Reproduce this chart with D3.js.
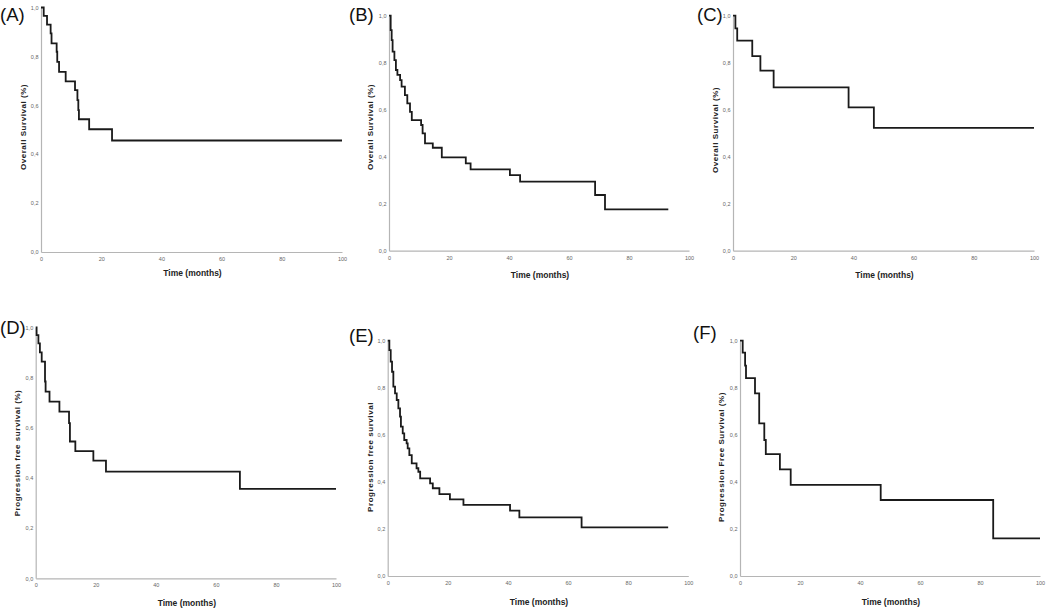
<!DOCTYPE html>
<html><head><meta charset="utf-8">
<script src="https://cdn.jsdelivr.net/npm/d3@7"></script>
<style>
html,body{margin:0;padding:0;background:#fff;}
svg{display:block;}
</style></head>
<body>
<svg id="chart" width="1050" height="611"></svg>
<script>
// ---- Data ----
const panelLetters = ["(A)", "(B)", "(C)", "(D)", "(E)", "(F)"];
const yTitles = ["Overall Survival (%)", "Overall Survival (%)", "Overall Survival (%)",
                 "Progression free survival (%)", "Progression free survival", "Progression Free Survival (%)"];
const xTitle = "Time (months)";
const xTicks = [0, 20, 40, 60, 80, 100];
const yTicks = [0, 0.2, 0.4, 0.6, 0.8, 1.0];

const timesA = [0, 0.9, 2.0, 3.2, 3.5, 5.2, 5.4, 6.0, 8.2, 11.3, 12.1, 12.4, 12.6, 16.0, 23.6, 100];
const survA  = [1.0, 0.966, 0.930, 0.894, 0.853, 0.819, 0.778, 0.737, 0.698, 0.662, 0.621, 0.580, 0.543, 0.502, 0.456, 0.456];

const timesB = [0, 0.56, 0.89, 1.2, 1.8, 2.3, 2.8, 3.7, 4.2, 5.3, 6.1, 7.0, 7.6, 10.7, 11.2, 12.0, 14.6, 17.6, 25.6, 27.2, 40.3, 43.7, 68.7, 72.0, 93.1];
const survB  = [1.0, 0.939, 0.896, 0.847, 0.811, 0.769, 0.748, 0.726, 0.698, 0.662, 0.627, 0.591, 0.556, 0.535, 0.499, 0.457, 0.438, 0.397, 0.372, 0.346, 0.322, 0.294, 0.237, 0.176, 0.176];

const timesC = [0, 0.8, 1.4, 6.4, 9.1, 13.5, 38.4, 46.8, 100];
const survC  = [1.0, 0.946, 0.894, 0.828, 0.766, 0.695, 0.610, 0.523, 0.523];

const timesD = [0, 0.3, 0.9, 1.4, 2.0, 3.1, 3.3, 4.6, 7.9, 11.1, 11.4, 13.2, 19.2, 23.4, 68.0, 100];
const survD  = [1.0, 0.969, 0.936, 0.900, 0.863, 0.784, 0.744, 0.704, 0.664, 0.618, 0.545, 0.507, 0.469, 0.425, 0.356, 0.356];

const timesE = [0, 0.55, 1.0, 1.44, 1.88, 2.44, 3.0, 3.55, 4.1, 4.4, 5.0, 5.5, 6.3, 6.65, 7.2, 8.0, 9.6, 10.2, 10.8, 14.1, 15.0, 17.2, 20.7, 25.2, 40.7, 43.8, 64.5, 93.3];
const survE  = [1.0, 0.960, 0.911, 0.868, 0.805, 0.776, 0.748, 0.712, 0.677, 0.635, 0.606, 0.578, 0.564, 0.542, 0.514, 0.479, 0.458, 0.443, 0.415, 0.394, 0.373, 0.348, 0.326, 0.302, 0.278, 0.249, 0.207, 0.207];

const timesF = [0, 0.9, 1.7, 2.0, 5.0, 6.4, 8.1, 8.6, 13.3, 16.9, 46.9, 84.4, 100];
const survF  = [1.0, 0.949, 0.894, 0.841, 0.776, 0.649, 0.578, 0.518, 0.453, 0.387, 0.323, 0.160, 0.160];

const allTimes = [timesA, timesB, timesC, timesD, timesE, timesF];
const allSurv  = [survA, survB, survC, survD, survE, survF];

// ---- Layout (pixel frames of each panel's plot area) ----
const frames = [
  {x0: 41,    x1: 342,   yT: 7.5,   yB: 252,   lx: 0,   ly: 16,  tx: 24,  tyC: 127, xtY: 274},
  {x0: 389,   x1: 689,   yT: 15.7,  yB: 250.7, lx: 349, ly: 16,  tx: 371, tyC: 127, xtY: 276},
  {x0: 733,   x1: 1034,  yT: 15.7,  yB: 250.7, lx: 697, ly: 16,  tx: 716, tyC: 130, xtY: 276},
  {x0: 35.7,  x1: 336,   yT: 327.3, yB: 578.3, lx: 0,   ly: 329, tx: 18,  tyC: 453, xtY: 604},
  {x0: 387.7, x1: 688.3, yT: 340.7, yB: 576,   lx: 349, ly: 337, tx: 371, tyC: 457, xtY: 603},
  {x0: 740,   x1: 1040,  yT: 340.7, yB: 576,   lx: 693, ly: 334, tx: 722, tyC: 457, xtY: 603}
];

const svg = d3.select("#chart");
const fmt = v => d3.format(".1f")(v).replace(".", ",");

frames.forEach((f, i) => {
  const x = d3.scaleLinear().domain([0, 100]).range([f.x0, f.x1]);
  const y = d3.scaleLinear().domain([0, 1]).range([f.yB, f.yT]);
  const g = svg.append("g");

  // axes
  const xAxis = d3.axisBottom(x).tickValues(xTicks).tickSize(0).tickPadding(5).tickFormat(d3.format("d"));
  const yAxis = d3.axisLeft(y).tickValues(yTicks).tickSize(0).tickPadding(2.5).tickFormat(fmt);
  const gx = g.append("g").attr("transform", `translate(0,${f.yB})`).call(xAxis);
  const gy = g.append("g").attr("transform", `translate(${f.x0},0)`).call(yAxis);
  [gx, gy].forEach(a => {
    a.select(".domain").attr("stroke", "#b5b5b5").attr("stroke-width", 1.2);
    a.selectAll("text").attr("fill", "#666").attr("font-size", 5.5)
      .attr("font-family", "Liberation Sans Narrow, Liberation Sans, Arial, sans-serif");
  });

  // step curve
  const pts = allTimes[i].map((t, k) => [t, allSurv[i][k]]);
  const line = d3.line().x(d => x(d[0])).y(d => y(d[1])).curve(d3.curveStepAfter);
  g.append("path").datum(pts).attr("d", line)
    .attr("fill", "none").attr("stroke", "#1a1a1a").attr("stroke-width", 1.8);

  // panel letter
  g.append("text").attr("x", f.lx).attr("y", f.ly).attr("dominant-baseline", "middle")
    .attr("font-family", "Liberation Sans, Arial, sans-serif").attr("font-size", 18.5)
    .attr("fill", "#111").text(panelLetters[i]);

  // y title
  g.append("text").attr("transform", `translate(${f.tx},${f.tyC}) rotate(-90)`)
    .attr("text-anchor", "middle").attr("dominant-baseline", "middle")
    .attr("font-family", "Liberation Sans, Arial, sans-serif").attr("font-weight", "bold")
    .attr("font-size", 8).attr("letter-spacing", 0.55).attr("fill", "#222").text(yTitles[i]);

  // x title
  g.append("text").attr("x", (f.x0 + f.x1) / 2 + 1).attr("y", f.xtY)
    .attr("text-anchor", "middle").attr("dominant-baseline", "middle")
    .attr("font-family", "Liberation Sans Narrow, Liberation Sans, Arial, sans-serif").attr("font-weight", "bold")
    .attr("font-size", 8.5).attr("fill", "#222").text(xTitle);
});
</script>
</body></html>
